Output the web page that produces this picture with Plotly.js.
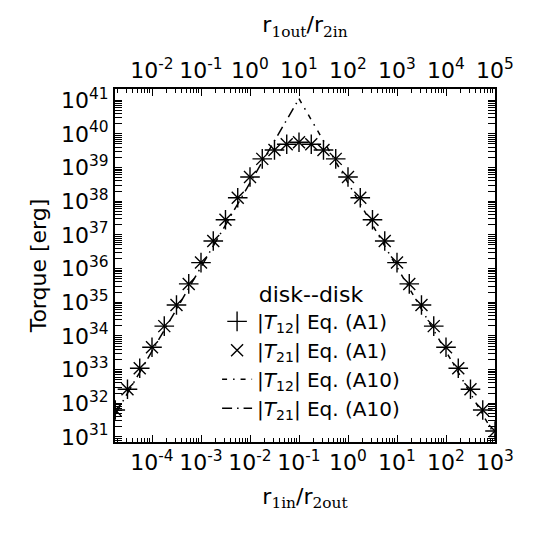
<!DOCTYPE html>
<html>
<head>
<meta charset="utf-8">
<script src="https://cdn.plot.ly/plotly-3.0.1.min.js"></script>
<style>
  html, body { margin: 0; padding: 0; background: #fff; }
  #plot { width: 540px; height: 540px; }
</style>
</head>
<body>
<div id="plot"></div>
<script>
// ratio r1in/r2out of the markers
var ratio = [1.78e-5, 3.16e-5, 5.62e-5, 1e-4, 1.78e-4, 3.16e-4, 5.62e-4, 1e-3,
  1.78e-3, 3.16e-3, 5.62e-3, 1e-2, 1.78e-2, 3.16e-2, 5.62e-2, 0.1,
  0.178, 0.316, 0.562, 1, 1.78, 3.16, 5.62, 10,
  17.8, 31.6, 56.2, 100, 178, 316, 562, 1000];

// torque, Eq. (A1)
var t12_a1 = [6.3e31, 2.6e32, 1.1e33, 4.6e33, 1.95e34, 8.3e34, 3.5e35, 1.5e36,
  6.6e36, 2.8e37, 1.26e38, 5.2e38, 1.8e39, 3.3e39, 4.9e39, 5.6e39,
  4.9e39, 3.3e39, 1.8e39, 5.2e38, 1.26e38, 2.8e37, 6.6e36, 1.5e36,
  3.5e35, 8.3e34, 1.95e34, 4.6e33, 1.1e33, 2.6e32, 6.3e31, 1.5e31];
var t21_a1 = t12_a1.slice();

// torque, Eq. (A10)
var ratio_a10_12 = [0.1, 1000];
var t12_a10 = [1.1e41, 1.1e31];
var ratio_a10_21 = [1.78e-5, 0.1];
var t21_a10 = [4.7e31, 1.1e41];

// tick labels
var xPowBottom = [-4, -3, -2, -1, 0, 1, 2, 3];
var xPowTop = [-2, -1, 0, 1, 2, 3, 4, 5];
var yPow = [31, 32, 33, 34, 35, 36, 37, 38, 39, 40, 41];

function majors(p) { return p.map(function (k) { return Math.pow(10, k); }); }
function labels(p) { return p.map(function (k) { return "10<sup>" + k + "</sup>"; }); }
function minors(lo, hi) {
  var v = [];
  for (var k = lo; k <= hi; k++) {
    for (var m = 2; m <= 9; m++) v.push(m * Math.pow(10, k));
  }
  return v;
}

var font = "DejaVu Sans";
var sub = function (s) {
  return "<sub><span style=\"font-family:'DejaVu Serif'\">" + s + "</span></sub>";
};

var common = {
  type: "log",
  showgrid: false,
  zeroline: false,
  showline: true,
  linecolor: "black",
  linewidth: 2,
  ticks: "inside",
  ticklen: 7,
  tickwidth: 1,
  tickcolor: "black",
  tickmode: "array",
  tickfont: { family: font, size: 22, color: "black" }
};
var minorStyle = { ticks: "inside", ticklen: 4, tickcolor: "black", tickwidth: 1 };

var traces = [
  {
    x: ratio, y: t12_a1, name: "|<i>T</i><sub>12</sub>| Eq. (A1)",
    mode: "markers", type: "scatter", legendgroup: "a",
    marker: { symbol: "cross-thin-open", size: 14, color: "black", line: { width: 1.4, color: "black" } }
  },
  {
    x: ratio, y: t21_a1, name: "|<i>T</i><sub>21</sub>| Eq. (A1)",
    mode: "markers", type: "scatter", legendgroup: "b",
    marker: { symbol: "x-thin-open", size: 12, color: "black", line: { width: 1.4, color: "black" } }
  },
  {
    x: ratio_a10_12, y: t12_a10, name: "|<i>T</i><sub>12</sub>| Eq. (A10)",
    mode: "lines", type: "scatter", legendgroup: "c",
    line: { color: "black", width: 1.5, dash: "5px,6px,1.5px,6px" }
  },
  {
    x: ratio_a10_21, y: t21_a10, name: "|<i>T</i><sub>21</sub>| Eq. (A10)",
    mode: "lines", type: "scatter", legendgroup: "d",
    line: { color: "black", width: 1.5, dash: "10px,5px,1.5px,5px" }
  },
  // empty trace so the top axis r1out/r2in gets drawn
  { x: [], y: [], xaxis: "x2", yaxis: "y", mode: "markers", type: "scatter", showlegend: false, hoverinfo: "skip" }
];

var layout = {
  width: 540, height: 540,
  margin: { l: 115, r: 45, t: 89, b: 98 },
  paper_bgcolor: "white", plot_bgcolor: "white",
  font: { family: font, color: "black" },
  showlegend: true,
  legend: {
    x: 0.516, xanchor: "center", y: 0.478, yanchor: "top",
    bgcolor: "rgba(0,0,0,0)",
    font: { family: font, size: 20, color: "black" },
    title: { text: "disk--disk", side: "top center", font: { family: font, size: 22 } },
    itemwidth: 30,
    traceorder: "grouped",
    tracegroupgap: 0
  },
  xaxis: Object.assign({}, common, {
    range: [-4.755, 3.0],
    tickvals: majors(xPowBottom), ticktext: labels(xPowBottom),
    minor: Object.assign({ tickvals: minors(-5, 2) }, minorStyle),
    title: { text: "r" + sub("1in") + "/r" + sub("2out"), font: { family: font, size: 22 }, standoff: 14 }
  }),
  xaxis2: Object.assign({}, common, {
    overlaying: "x", side: "top", anchor: "y",
    range: [-2.755, 5.0],
    tickvals: majors(xPowTop), ticktext: labels(xPowTop),
    minor: Object.assign({ tickvals: minors(-3, 4) }, minorStyle),
    title: { text: "r" + sub("1out") + "/r" + sub("2in"), font: { family: font, size: 22 }, standoff: 16 }
  }),
  yaxis: Object.assign({}, common, {
    range: [30.85, 41.33],
    mirror: "allticks",
    tickvals: majors(yPow), ticktext: labels(yPow),
    minor: Object.assign({ tickvals: minors(30, 41) }, minorStyle),
    title: { text: "Torque [erg]", font: { family: font, size: 22 }, standoff: 8 }
  })
};

Plotly.newPlot("plot", traces, layout, { displayModeBar: false, staticPlot: true });
</script>
</body>
</html>
